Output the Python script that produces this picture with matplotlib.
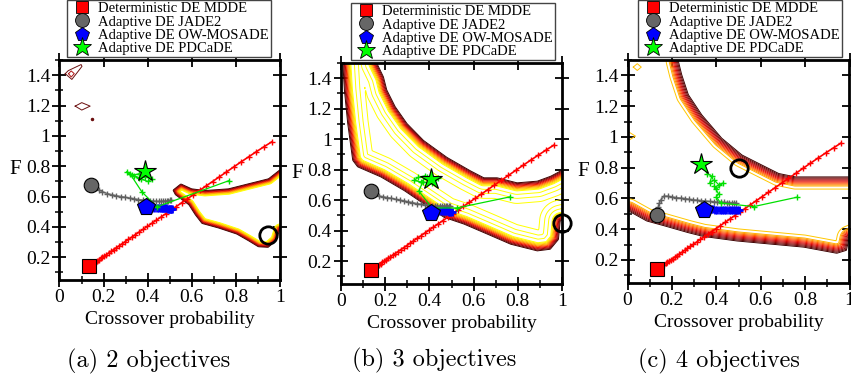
import numpy as np
import matplotlib
matplotlib.use("Agg")
import matplotlib.pyplot as plt
from matplotlib.path import Path
from matplotlib.lines import Line2D
from matplotlib.colors import LinearSegmentedColormap
from matplotlib.ticker import MultipleLocator, FuncFormatter

# ---- data ----
# deterministic MDDE trajectory (same in every panel)
mdde_x = [0.135, 0.139, 0.143, 0.148, 0.153, 0.159, 0.165, 0.172, 0.179, 0.187, 0.195, 0.204,
          0.213, 0.223, 0.234, 0.245, 0.257, 0.27, 0.283, 0.297, 0.312, 0.328, 0.344, 0.361,
          0.379, 0.398, 0.418, 0.439, 0.46, 0.482, 0.505, 0.529, 0.554, 0.58, 0.607, 0.635,
          0.664, 0.694, 0.725, 0.757, 0.79, 0.824, 0.858, 0.893, 0.928, 0.962]
mdde_y = [0.14, 0.144, 0.148, 0.153, 0.158, 0.164, 0.17, 0.177, 0.184, 0.192, 0.2, 0.209,
          0.218, 0.228, 0.239, 0.25, 0.262, 0.275, 0.288, 0.302, 0.317, 0.333, 0.349, 0.366,
          0.384, 0.403, 0.423, 0.444, 0.465, 0.487, 0.51, 0.534, 0.559, 0.585, 0.612, 0.64,
          0.669, 0.699, 0.73, 0.762, 0.795, 0.829, 0.862, 0.896, 0.929, 0.96]

# JADE2 trajectories
jade_a_x = [0.142, 0.16, 0.177, 0.195, 0.215, 0.237, 0.258, 0.278, 0.298, 0.318, 0.338, 0.358,
            0.377, 0.395, 0.41, 0.424, 0.437, 0.449, 0.46, 0.47, 0.479, 0.487, 0.494, 0.5, 0.505]
jade_a_y = [0.676, 0.658, 0.645, 0.632, 0.62, 0.612, 0.605, 0.6, 0.595, 0.59, 0.585, 0.58,
            0.577, 0.574, 0.572, 0.57, 0.569, 0.568, 0.568, 0.569, 0.57, 0.571, 0.572, 0.574, 0.575]
jade_b_x = [0.134, 0.152, 0.17, 0.19, 0.209, 0.228, 0.247, 0.266, 0.285, 0.304, 0.323, 0.342,
            0.36, 0.378, 0.395, 0.41, 0.424, 0.436, 0.447, 0.457, 0.466, 0.474, 0.481, 0.487, 0.492]
jade_b_y = [0.657, 0.64, 0.628, 0.622, 0.617, 0.612, 0.606, 0.6, 0.595, 0.589, 0.584, 0.578,
            0.573, 0.569, 0.566, 0.564, 0.563, 0.562, 0.562, 0.562, 0.562, 0.562, 0.563, 0.563, 0.563]
jade_c_x = [0.134, 0.136, 0.139, 0.143, 0.15, 0.164, 0.182, 0.201, 0.22, 0.239, 0.258, 0.276,
            0.295, 0.314, 0.332, 0.351, 0.37, 0.388, 0.405, 0.421, 0.435, 0.448, 0.459, 0.469,
            0.478, 0.487]
jade_c_y = [0.494, 0.52, 0.545, 0.568, 0.59, 0.615, 0.614, 0.609, 0.605, 0.602, 0.599, 0.594,
            0.591, 0.588, 0.585, 0.583, 0.58, 0.578, 0.576, 0.575, 0.574, 0.573, 0.573, 0.572,
            0.572, 0.572]

# OW-MOSADE trajectories
mosade_a_x = [0.393, 0.40, 0.41, 0.42, 0.43, 0.44, 0.45, 0.46, 0.465, 0.47, 0.475, 0.48,
              0.485, 0.49, 0.495, 0.5, 0.505, 0.509]
mosade_a_y = [0.532, 0.53, 0.529, 0.528, 0.527, 0.526, 0.525, 0.524, 0.524, 0.523, 0.523,
              0.522, 0.522, 0.521, 0.521, 0.521, 0.52, 0.52]
mosade_b_x = [0.405, 0.415, 0.425, 0.435, 0.445, 0.455, 0.465, 0.472, 0.479, 0.485, 0.49,
              0.495, 0.5]
mosade_b_y = [0.518, 0.522, 0.524, 0.525, 0.526, 0.527, 0.527, 0.527, 0.526, 0.526, 0.525,
              0.525, 0.525]
mosade_c_x = [0.344, 0.355, 0.365, 0.375, 0.385, 0.395, 0.405, 0.415, 0.425, 0.435, 0.445,
              0.455, 0.465, 0.475, 0.485, 0.495, 0.502]
mosade_c_y = [0.526, 0.527, 0.528, 0.528, 0.528, 0.527, 0.527, 0.527, 0.526, 0.526, 0.526,
              0.526, 0.526, 0.526, 0.525, 0.525, 0.525]

# PDCaDE trajectories
pdcade_a_x = [0.388, 0.36, 0.33, 0.305, 0.34, 0.37, 0.40, 0.42, 0.39, 0.36, 0.32, 0.373, 0.441, 0.769]
pdcade_a_y = [0.769, 0.75, 0.74, 0.764, 0.735, 0.715, 0.70, 0.715, 0.73, 0.72, 0.75, 0.632, 0.532, 0.705]
pdcade_b_x = [0.405, 0.38, 0.35, 0.33, 0.36, 0.39, 0.42, 0.44, 0.41, 0.37, 0.352, 0.412, 0.525, 0.766]
pdcade_b_y = [0.739, 0.76, 0.75, 0.73, 0.72, 0.75, 0.73, 0.745, 0.71, 0.72, 0.66, 0.549, 0.549, 0.622]
pdcade_c_x = [0.333, 0.36, 0.38, 0.37, 0.39, 0.41, 0.43, 0.40, 0.39, 0.41, 0.40, 0.42, 0.569, 0.764]
pdcade_c_y = [0.824, 0.76, 0.745, 0.70, 0.72, 0.69, 0.70, 0.66, 0.68, 0.63, 0.61, 0.57, 0.547, 0.608]

# best (F, CR) settings, open circles
best_x = [0.947, 1.0, 0.502]
best_y = [0.349, 0.45, 0.798]

# outer boundary of the good-performance region in each panel
region_a_x = [0.512, 0.55, 0.60, 0.66, 0.766, 0.856, 0.947, 0.995, 1.1, 1.1, 1.0, 0.985,
              0.947, 0.901, 0.856, 0.803, 0.72, 0.645, 0.614, 0.585, 0.524]
region_a_y = [0.643, 0.687, 0.654, 0.643, 0.654, 0.687, 0.72, 0.775, 0.85, 0.42, 0.38, 0.31,
              0.262, 0.266, 0.306, 0.35, 0.39, 0.42, 0.478, 0.544, 0.61]
region_b_x = [0.13, 0.164, 0.194, 0.209, 0.247, 0.30, 0.375, 0.481, 0.587, 0.647, 0.707, 0.797,
              0.888, 0.948, 0.994, 1.1, 1.1, 0.994, 0.986, 0.948, 0.888, 0.767, 0.662, 0.556,
              0.466, 0.375, 0.285, 0.179, 0.074, 0.051, 0.028, 0.013, 0.006, 0.0]
region_b_y = [1.85, 1.5, 1.41, 1.325, 1.215, 1.105, 0.994, 0.883, 0.795, 0.75, 0.75, 0.717,
              0.728, 0.76, 0.795, 0.82, 0.5, 0.462, 0.341, 0.275, 0.264, 0.308, 0.374, 0.44,
              0.484, 0.572, 0.66, 0.75, 0.816, 0.86, 1.105, 1.325, 1.5, 1.85]
region_c_x = [0.22, 0.231, 0.246, 0.276, 0.336, 0.426, 0.517, 0.606, 0.682, 0.757, 0.847, 0.997,
              1.1, 1.1, 1.0, 0.988, 0.943, 0.793, 0.643, 0.493, 0.34, 0.271, 0.167, 0.086,
              0.005, -0.15, -0.15]
region_c_y = [1.85, 1.494, 1.407, 1.276, 1.146, 0.994, 0.885, 0.82, 0.765, 0.743, 0.743, 0.743,
              0.743, 0.40, 0.34, 0.26, 0.24, 0.28, 0.30, 0.32, 0.35, 0.375, 0.418, 0.45,
              0.515, 0.53, 1.85]

# small isolated contour pieces
kite_a_x = [0.026, 0.056, 0.102, 0.098, 0.04, 0.026]
kite_a_y = [1.41, 1.372, 1.458, 1.47, 1.43, 1.41]
diam_a1_x = [0.041, 0.053, 0.067, 0.053, 0.041]
diam_a1_y = [1.41, 1.388, 1.41, 1.428, 1.41]
diam_a2_x = [0.071, 0.101, 0.139, 0.101, 0.071]
diam_a2_y = [1.196, 1.17, 1.196, 1.219, 1.196]
diam_c_x = [0.026, 0.044, 0.062, 0.044, 0.026]
diam_c_y = [1.454, 1.476, 1.454, 1.432, 1.454]
squig_c_x = [0.0, 0.036, 0.0]
squig_c_y = [1.037, 1.005, 0.973]

labels = ["Deterministic DE MDDE", "Adaptive DE JADE2", "Adaptive DE OW-MOSADE", "Adaptive DE PDCaDE"]
captions = ["(a) 2 objectives", "(b) 3 objectives", "(c) 4 objectives"]

SERIF = "Liberation Serif"
PX_X, PX_Y = 221.0, 152.0   # pixels per data unit, used for the contour distances

band_cmap = LinearSegmentedColormap.from_list(
    "band", [(0, "#3c0000"), (0.15, "#800000"), (0.35, "#e00000"), (0.5, "#ff4000"),
             (0.65, "#ff9000"), (0.8, "#ffc800"), (1.0, "#ffff00")])


def signed_dist(px, py, X, Y):
    P = np.column_stack([np.asarray(px) * PX_X, np.asarray(py) * PX_Y])
    G = np.column_stack([X.ravel() * PX_X, Y.ravel() * PX_Y])
    d = np.full(len(G), np.inf)
    for a, b in zip(P, np.roll(P, -1, axis=0)):
        ab = b - a
        t = np.clip(((G - a) @ ab) / (ab @ ab), 0, 1)
        proj = a + t[:, None] * ab
        d = np.minimum(d, np.hypot(*(G - proj).T))
    inside = Path(P).contains_points(G)
    return np.where(inside, d, -d).reshape(X.shape)


gx, gy = np.meshgrid(np.linspace(-0.2, 1.2, 360), np.linspace(-0.1, 1.9, 420))

fig = plt.figure(figsize=(8.51, 3.81), dpi=100)
W, H = 851.0, 381.0
boxes = [(59.5, 60, 280, 280), (341, 63, 562, 284), (627.5, 60, 849.5, 283)]
legend_boxes = [(67, 0), (351, 3), (638, 0)]
caption_pos = [(149, 361), (434, 360), (719, 361)]
regions = [(region_a_x, region_a_y), (region_b_x, region_b_y), (region_c_x, region_c_y)]
# (levels in px from the region edge, number of dense levels, top colour fraction)
level_sets = [
    ([0.5, 1.1, 1.7, 2.3, 2.9, 3.5, 4.1, 4.7, 5.3, 5.9], 10, 1.0),
    ([0.5, 1.3, 2.1, 2.9, 3.7, 4.5, 5.3, 6.1, 6.9, 7.7, 8.5, 12, 16, 21], 11, 1.0),
    ([0.5, 1.5, 2.5, 3.5, 4.5, 5.5, 6.5, 7.5, 8.5, 9.5, 12.5], 11, 0.8),
]
jade = [(jade_a_x, jade_a_y), (jade_b_x, jade_b_y), (jade_c_x, jade_c_y)]
mosade = [(mosade_a_x, mosade_a_y), (mosade_b_x, mosade_b_y), (mosade_c_x, mosade_c_y)]
pdcade = [(pdcade_a_x, pdcade_a_y), (pdcade_b_x, pdcade_b_y), (pdcade_c_x, pdcade_c_y)]

for i in range(3):
    l, t, r, b = boxes[i]
    ax = fig.add_axes([l / W, 1 - b / H, (r - l) / W, (b - t) / H])
    ax.set_xlim(0, 1)
    ax.set_ylim(0.05, 1.5)

    # contour band
    field = signed_dist(*regions[i], gx, gy)
    levels, n_dense, top = level_sets[i]
    cols = [band_cmap(min(k, n_dense - 1) / (n_dense - 1) * top) for k in range(len(levels))]
    ax.contour(gx, gy, field, levels=levels, colors=cols, linewidths=0.7)

    if i == 0:
        ax.plot(kite_a_x, kite_a_y, color="#6b0f0f", lw=0.7)
        ax.plot(diam_a1_x, diam_a1_y, color="#b01515", lw=0.7)
        ax.plot(diam_a2_x, diam_a2_y, color="#6b0f0f", lw=0.7)
        ax.plot([0.149], [1.108], "o", color="#6b0f0f", ms=1.5)
    if i == 2:
        ax.plot(diam_c_x, diam_c_y, color="#ffc000", lw=0.7)
        ax.plot(squig_c_x, squig_c_y, color="#ffc000", lw=0.7)

    # trajectories
    ax.plot(mdde_x, mdde_y, color="#ff0000", lw=1.2, marker="+", ms=4, mew=1)
    ax.plot(*jade[i], color="#808080", lw=1.2, marker="+", ms=5, mew=1, mec="#606060")
    ax.plot(*mosade[i], color="#0000ff", lw=3, marker="+", ms=6, mew=2)
    ax.plot(*pdcade[i], color="#00e000", lw=0.9, marker="+", ms=5, mew=1)

    # final settings
    ax.plot(mdde_x[0], mdde_y[0], "s", color="#ff0000", mec="black", ms=9.5, mew=0.8)
    ax.plot(jade[i][0][0], jade[i][1][0], "o", color="#666666", mec="black", ms=10.5, mew=0.8)
    ax.plot(mosade[i][0][0], mosade[i][1][0], "p", color="#0000ff", mec="black", ms=13, mew=0.8)
    ax.plot(pdcade[i][0][0], pdcade[i][1][0], "*", color="#00ff00", mec="black", ms=16, mew=0.8)
    ax.plot(best_x[i], best_y[i], "o", mfc="none", mec="black", ms=12.5, mew=2, clip_on=False, zorder=5)

    # axes styling
    for s in ax.spines.values():
        s.set_linewidth(2)
    ax.xaxis.set_major_locator(MultipleLocator(0.2))
    ax.xaxis.set_minor_locator(MultipleLocator(0.1))
    ax.yaxis.set_major_locator(MultipleLocator(0.2))
    ax.yaxis.set_minor_locator(MultipleLocator(0.1))
    fmt = FuncFormatter(lambda v, p: f"{v:g}")
    ax.xaxis.set_major_formatter(fmt)
    ax.yaxis.set_major_formatter(fmt)
    ax.tick_params(which="major", direction="inout", length=10, width=1.3,
                   top=True, right=True, pad=1.5, labelsize=14)
    ax.tick_params(which="minor", direction="inout", length=6, width=1.1,
                   top=False, right=False)
    for lab in ax.get_xticklabels() + ax.get_yticklabels():
        lab.set_family(SERIF)
    ax.set_xlabel("Crossover probability", family=SERIF, fontsize=14)
    ax.xaxis.set_label_coords(0.5, -0.14)
    ax.text(-0.2, 0.5, "F", transform=ax.transAxes, family=SERIF, fontsize=15,
            ha="center", va="center")

    handles = [
        Line2D([], [], ls="none", marker="s", color="#ff0000", mec="black", ms=8.5, mew=0.6),
        Line2D([], [], ls="none", marker="o", color="#666666", mec="black", ms=10, mew=0.6),
        Line2D([], [], ls="none", marker="p", color="#0000ff", mec="black", ms=10, mew=0.6),
        Line2D([], [], ls="none", marker="*", color="#00ff00", mec="black", ms=14, mew=0.6),
    ]
    lx, ly = legend_boxes[i]
    leg = fig.legend(handles, labels, loc="upper left", bbox_to_anchor=(lx / W, 1 - ly / H),
                     borderaxespad=0, fancybox=False, framealpha=1, edgecolor="#444444",
                     prop={"family": SERIF, "size": 10.5}, labelspacing=0.0, borderpad=0.15,
                     handlelength=1.7, handletextpad=0.3)
    leg.get_frame().set_linewidth(1)

    cx, cy = caption_pos[i]
    fig.text(cx / W, 1 - cy / H, captions[i], family="cmr10", fontsize=17.5,
             ha="center", va="center")

fig.savefig("out.png", dpi=100)
